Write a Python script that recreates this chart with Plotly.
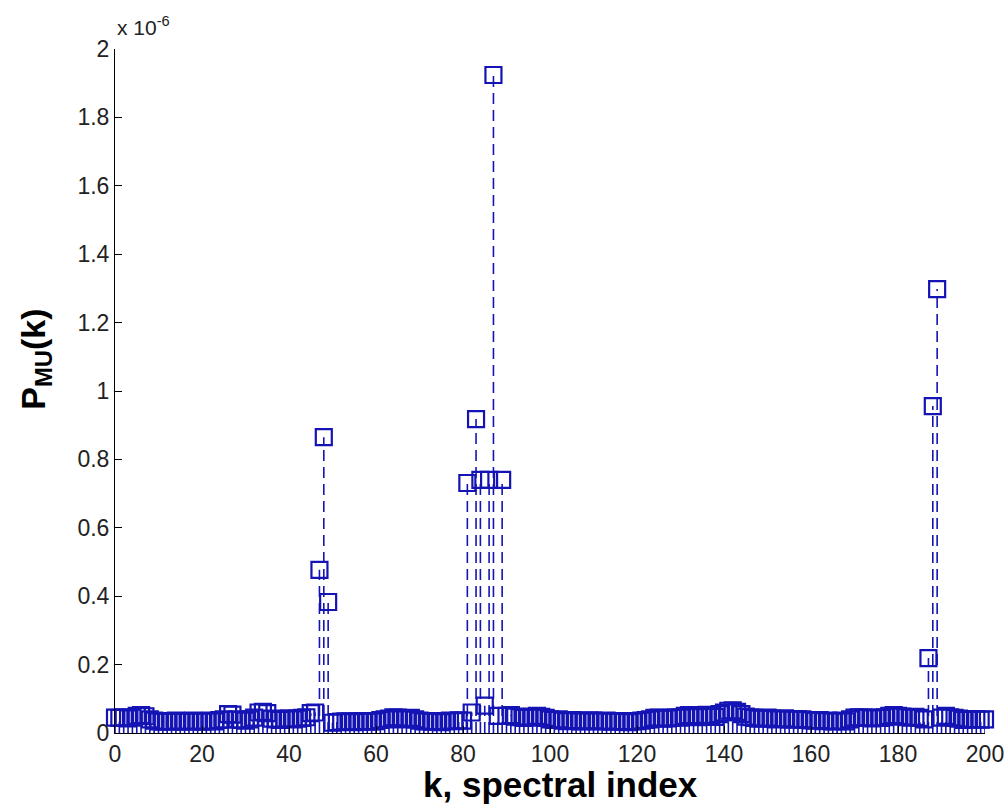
import plotly.graph_objects as go

# spectral index k and P_MU(k) in units of 1e-6
k = list(range(201))
pmu = [
    0.045, 0.044, 0.046, 0.043, 0.045, 0.050, 0.052, 0.049, 0.040, 0.036,
    0.034, 0.033, 0.035, 0.034, 0.036, 0.033, 0.034, 0.035, 0.036, 0.034,
    0.033, 0.035, 0.036, 0.034, 0.038, 0.040, 0.055, 0.054, 0.040, 0.038,
    0.036, 0.040, 0.045, 0.060, 0.062, 0.058, 0.042, 0.040, 0.038, 0.041,
    0.043, 0.040, 0.042, 0.044, 0.046, 0.058, 0.060, 0.477, 0.865, 0.383,
    0.030, 0.032, 0.033, 0.034, 0.033, 0.032, 0.034, 0.035, 0.033, 0.034,
    0.035, 0.038, 0.040, 0.042, 0.046, 0.045, 0.040, 0.041, 0.044, 0.040,
    0.036, 0.034, 0.035, 0.033, 0.034, 0.032, 0.035, 0.036, 0.035, 0.037,
    0.036, 0.731, 0.060, 0.918, 0.740, 0.080, 0.740, 1.924, 0.050, 0.740,
    0.050, 0.052, 0.048, 0.046, 0.044, 0.045, 0.048, 0.050, 0.047, 0.044,
    0.040, 0.038, 0.040, 0.036, 0.035, 0.038, 0.036, 0.034, 0.035, 0.037,
    0.036, 0.034, 0.035, 0.036, 0.033, 0.034, 0.035, 0.033, 0.032, 0.034,
    0.035, 0.036, 0.038, 0.040, 0.044, 0.045, 0.042, 0.043, 0.044, 0.046,
    0.045, 0.050, 0.052, 0.048, 0.046, 0.050, 0.053, 0.052, 0.047, 0.055,
    0.060, 0.065, 0.066, 0.062, 0.055, 0.048, 0.046, 0.044, 0.042, 0.043,
    0.045, 0.042, 0.040, 0.041, 0.043, 0.040, 0.039, 0.041, 0.040, 0.038,
    0.037, 0.036, 0.038, 0.035, 0.036, 0.034, 0.035, 0.036, 0.034, 0.040,
    0.045, 0.046, 0.045, 0.044, 0.043, 0.045, 0.044, 0.046, 0.050, 0.052,
    0.050, 0.048, 0.046, 0.045, 0.047, 0.044, 0.040, 0.219, 0.956, 1.298,
    0.045, 0.050, 0.046, 0.044, 0.042, 0.038, 0.040, 0.041, 0.040, 0.039,
    0.040,
]

STEM_COLOR = '#1414b4'
FONT = 'Liberation Sans, Arial, sans-serif'

# stem lines: from baseline up to each value
stem_x, stem_y = [], []
for xi, yi in zip(k, pmu):
    stem_x += [xi, xi, None]
    stem_y += [0, yi, None]

fig = go.Figure()
fig.add_trace(go.Scatter(
    x=stem_x, y=stem_y, mode='lines',
    line=dict(color=STEM_COLOR, width=1.6, dash='11px,6px'),
    cliponaxis=False, hoverinfo='skip', showlegend=False,
))
fig.add_trace(go.Scatter(
    x=k, y=pmu, mode='markers',
    marker=dict(symbol='square-open', size=16, color=STEM_COLOR,
                line=dict(color=STEM_COLOR, width=2.2)),
    cliponaxis=False, showlegend=False,
))

fig.update_layout(
    width=1006, height=812,
    margin=dict(l=115, r=21, t=49, b=79),
    paper_bgcolor='white', plot_bgcolor='white',
    font=dict(family=FONT, color='black', size=22),
    xaxis=dict(
        range=[0, 200], dtick=20, tick0=0, automargin=False,
        showline=True, linecolor='black', linewidth=1,
        ticks='inside', ticklen=7, tickcolor='black',
        showgrid=False, zeroline=False,
        tickfont=dict(size=23, color='#222'),
    ),
    yaxis=dict(
        range=[0, 2], dtick=0.2, tick0=0, automargin=False,
        showline=True, linecolor='black', linewidth=1,
        ticks='inside', ticklen=7, tickcolor='black',
        showgrid=False, zeroline=False,
        tickfont=dict(size=23, color='#222'),
    ),
    annotations=[
        dict(text='x 10<sup>-6</sup>', xref='paper', yref='paper',
             x=0.0, y=1.0, xanchor='left', yanchor='bottom', yshift=8,
             showarrow=False, font=dict(size=21, color='#222')),
        dict(text='<b>k, spectral index</b>', xref='paper', yref='paper',
             x=0.512, y=-0.076, xanchor='center', yanchor='middle',
             showarrow=False, font=dict(size=35)),
        dict(text='<b>P<sub>MU</sub>(k)</b>', xref='paper', yref='paper',
             x=-0.091, y=0.547, xanchor='center', yanchor='middle', textangle=-90,
             showarrow=False, font=dict(size=34)),
    ],
)

fig.write_html('out.html', config={'displayModeBar': False},
               post_script="document.body.style.margin='0';")
